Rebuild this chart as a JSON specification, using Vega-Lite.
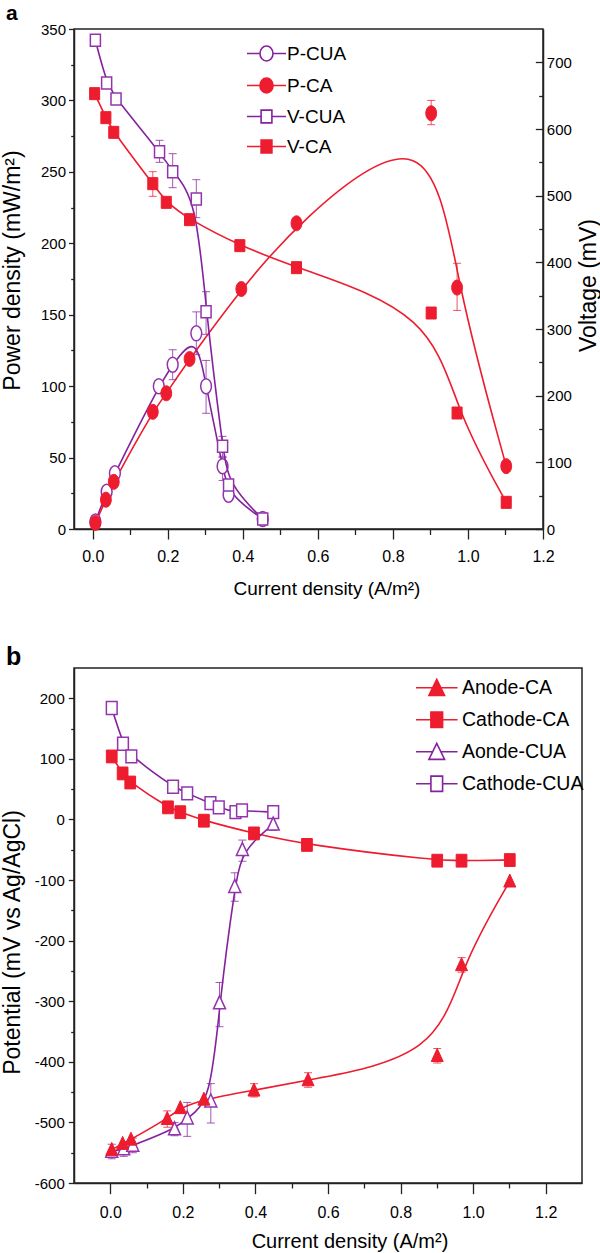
{
  "$schema": "https://vega.github.io/schema/vega-lite/v6.json",
  "background": "white",
  "padding": {"top": 2, "left": 0, "right": 0, "bottom": 0},
  "spacing": 45,
  "resolve": {
    "scale": {"color": "independent", "fill": "independent", "stroke": "independent", "shape": "independent"},
    "legend": {"color": "independent", "fill": "independent", "stroke": "independent", "shape": "independent"}
  },
  "config": {
    "view": {"stroke": "#222", "strokeWidth": 1.5},
    "axis": {"grid": false, "domainColor": "#222", "domainWidth": 1.5, "tickColor": "#222", "tickWidth": 1.3, "labelColor": "#000", "titleColor": "#000", "labelFont": "Liberation Sans", "labelFontSize": 15, "titleFontWeight": "normal", "labelOverlap": false, "labelFlush": false},
    "legend": {"labelFont": "Liberation Sans", "labelColor": "#000"}
  },
  "datasets": {
    "a": [
      {"series":"P-CUA","x":0.007,"y":5.3,"lo":2,"hi":9},
      {"series":"P-CUA","x":0.037,"y":26},
      {"series":"P-CUA","x":0.059,"y":39},
      {"series":"P-CUA","x":0.176,"y":100},
      {"series":"P-CUA","x":0.213,"y":115,"lo":104.5,"hi":125.5},
      {"series":"P-CUA","x":0.276,"y":137,"lo":122,"hi":152},
      {"series":"P-CUA","x":0.302,"y":100,"lo":81,"hi":118},
      {"series":"P-CUA","x":0.346,"y":44,"lo":34,"hi":50},
      {"series":"P-CUA","x":0.362,"y":24},
      {"series":"P-CUA","x":0.453,"y":7,"lo":4,"hi":11},
      {"series":"P-CA","x":0.007,"y":4.2},
      {"series":"P-CA","x":0.035,"y":20.5},
      {"series":"P-CA","x":0.056,"y":33},
      {"series":"P-CA","x":0.16,"y":82},
      {"series":"P-CA","x":0.196,"y":95},
      {"series":"P-CA","x":0.258,"y":119},
      {"series":"P-CA","x":0.396,"y":168},
      {"series":"P-CA","x":0.543,"y":214},
      {"series":"P-CA","x":0.902,"y":291,"lo":283,"hi":300},
      {"series":"P-CA","x":0.971,"y":169,"lo":153,"hi":186},
      {"series":"P-CA","x":1.102,"y":44},
      {"series":"V-CUA","x":0.007,"y":733,"lo":725,"hi":741},
      {"series":"V-CUA","x":0.037,"y":669,"lo":661,"hi":677},
      {"series":"V-CUA","x":0.062,"y":645,"lo":637,"hi":652},
      {"series":"V-CUA","x":0.178,"y":566,"lo":550,"hi":583},
      {"series":"V-CUA","x":0.213,"y":536,"lo":512,"hi":563},
      {"series":"V-CUA","x":0.276,"y":495,"lo":467,"hi":524},
      {"series":"V-CUA","x":0.302,"y":326,"lo":292,"hi":356},
      {"series":"V-CUA","x":0.346,"y":124,"lo":109,"hi":139},
      {"series":"V-CUA","x":0.362,"y":66,"lo":58,"hi":74},
      {"series":"V-CUA","x":0.453,"y":15,"lo":9,"hi":21},
      {"series":"V-CA","x":0.005,"y":653},
      {"series":"V-CA","x":0.035,"y":617},
      {"series":"V-CA","x":0.056,"y":595},
      {"series":"V-CA","x":0.16,"y":518,"lo":499,"hi":536},
      {"series":"V-CA","x":0.196,"y":490},
      {"series":"V-CA","x":0.258,"y":464},
      {"series":"V-CA","x":0.392,"y":425},
      {"series":"V-CA","x":0.543,"y":392},
      {"series":"V-CA","x":0.902,"y":324},
      {"series":"V-CA","x":0.971,"y":174},
      {"series":"V-CA","x":1.102,"y":40}
    ],
    "b": [
      {"series":"Anode-CA","x":0.004,"y":-545},
      {"series":"Anode-CA","x":0.034,"y":-535},
      {"series":"Anode-CA","x":0.057,"y":-528},
      {"series":"Anode-CA","x":0.157,"y":-494,"lo":-508,"hi":-481},
      {"series":"Anode-CA","x":0.193,"y":-476},
      {"series":"Anode-CA","x":0.258,"y":-462},
      {"series":"Anode-CA","x":0.396,"y":-447,"lo":-458,"hi":-436},
      {"series":"Anode-CA","x":0.545,"y":-430,"lo":-442,"hi":-418},
      {"series":"Anode-CA","x":0.901,"y":-390,"lo":-402,"hi":-378},
      {"series":"Anode-CA","x":0.968,"y":-240,"lo":-252,"hi":-228},
      {"series":"Anode-CA","x":1.101,"y":-102},
      {"series":"Cathode-CA","x":0.004,"y":104},
      {"series":"Cathode-CA","x":0.034,"y":76},
      {"series":"Cathode-CA","x":0.055,"y":61},
      {"series":"Cathode-CA","x":0.159,"y":20},
      {"series":"Cathode-CA","x":0.193,"y":12},
      {"series":"Cathode-CA","x":0.258,"y":-2},
      {"series":"Cathode-CA","x":0.396,"y":-23},
      {"series":"Cathode-CA","x":0.542,"y":-42},
      {"series":"Cathode-CA","x":0.901,"y":-68},
      {"series":"Cathode-CA","x":0.968,"y":-68},
      {"series":"Cathode-CA","x":1.101,"y":-67},
      {"series":"Aonde-CUA","x":0.004,"y":-548,"lo":-560,"hi":-536},
      {"series":"Aonde-CUA","x":0.037,"y":-544,"lo":-556,"hi":-532},
      {"series":"Aonde-CUA","x":0.062,"y":-538,"lo":-550,"hi":-526},
      {"series":"Aonde-CUA","x":0.177,"y":-511,"lo":-522,"hi":-500},
      {"series":"Aonde-CUA","x":0.212,"y":-493,"lo":-523,"hi":-467},
      {"series":"Aonde-CUA","x":0.277,"y":-465,"lo":-501,"hi":-436},
      {"series":"Aonde-CUA","x":0.301,"y":-303,"lo":-342,"hi":-269},
      {"series":"Aonde-CUA","x":0.343,"y":-111,"lo":-135,"hi":-88},
      {"series":"Aonde-CUA","x":0.364,"y":-50,"lo":-69,"hi":-34},
      {"series":"Aonde-CUA","x":0.449,"y":-8,"lo":-18,"hi":2},
      {"series":"Cathode-CUA","x":0.004,"y":184,"lo":176,"hi":192},
      {"series":"Cathode-CUA","x":0.035,"y":125,"lo":117,"hi":133},
      {"series":"Cathode-CUA","x":0.058,"y":104,"lo":96,"hi":112},
      {"series":"Cathode-CUA","x":0.173,"y":54,"lo":46,"hi":62},
      {"series":"Cathode-CUA","x":0.212,"y":43,"lo":35,"hi":51},
      {"series":"Cathode-CUA","x":0.276,"y":27,"lo":19,"hi":35},
      {"series":"Cathode-CUA","x":0.299,"y":20,"lo":12,"hi":28},
      {"series":"Cathode-CUA","x":0.345,"y":12},
      {"series":"Cathode-CUA","x":0.363,"y":15},
      {"series":"Cathode-CUA","x":0.449,"y":12,"lo":2,"hi":22}
    ]
  },
  "vconcat": [
    {
      "width": 469,
      "height": 500,
      "title": {"text": "a", "anchor": "start", "frame": "group", "dx": -68, "offset": -2, "fontSize": 21, "fontWeight": "bold", "font": "Liberation Sans", "color": "#000"},
      "data": {"name": "a"},
      "resolve": {"scale": {"y": "independent"}, "axis": {"y": "independent"}},
      "layer": [
        {
          "transform": [{"filter": "datum.series === 'P-CUA' || datum.series === 'P-CA'"}],
          "encoding": {
            "x": {"field": "x", "type": "quantitative", "scale": {"domain": [-0.05, 1.2], "nice": false, "zero": false},
              "axis": {"title": "Current density (A/m²)", "values": [0,0.1,0.2,0.3,0.4,0.5,0.6,0.7,0.8,0.9,1.0,1.1,1.2], "labelExpr": "round(datum.value*10) % 2 === 0 ? format(datum.value, '.1f') : ''", "tickSize": {"condition": {"test": "round(datum.value*10) % 2 === 0", "value": 10}, "value": 5.5}, "labelPadding": 9, "labelFontSize": 16, "titleFont": "Liberation Sans", "titleFontSize": 19, "titlePadding": 15, "titleX": 252.5}},
            "y": {"field": "y", "type": "quantitative", "scale": {"domain": [0, 350], "nice": false, "zero": false},
              "axis": {"title": "Power density (mW/m²)", "values": [0,25,50,75,100,125,150,175,200,225,250,275,300,325,350], "labelExpr": "datum.value % 50 === 0 ? datum.label : ''", "tickSize": {"condition": {"test": "datum.value % 50 === 0", "value": 5.5}, "value": 3.3}, "labelPadding": 3, "titleFont": "Liberation Sans", "titleFontSize": 23, "titlePadding": 16, "titleY": 241}}
          },
          "layer": [
            {"mark": {"type": "line", "interpolate": "basis", "strokeWidth": 1.6},
              "encoding": {"color": {"field": "series", "type": "nominal", "scale": {"domain": ["P-CA","P-CUA","V-CA","V-CUA"], "range": ["#ed1c2e","#84229e","#ed1c2e","#84229e"]}, "legend": null}}},
            {"transform": [{"filter": "isValid(datum.lo)"}], "mark": {"type": "rule", "strokeWidth": 1, "opacity": 0.75},
              "encoding": {"y": {"field": "lo", "type": "quantitative", "scale": {"domain": [0, 350], "nice": false, "zero": false},
                  "axis": {"title": "Power density (mW/m²)", "values": [0,25,50,75,100,125,150,175,200,225,250,275,300,325,350], "labelExpr": "datum.value % 50 === 0 ? datum.label : ''", "tickSize": {"condition": {"test": "datum.value % 50 === 0", "value": 5.5}, "value": 3.3}, "labelPadding": 3, "titleFont": "Liberation Sans", "titleFontSize": 23, "titlePadding": 16, "titleY": 241}},
                "y2": {"field": "hi"},
                "color": {"field": "series", "type": "nominal", "scale": {"domain": ["P-CA","P-CUA","V-CA","V-CUA"], "range": ["#ed1c2e","#84229e","#ed1c2e","#84229e"]}, "legend": null}}},
            {"transform": [{"filter": "isValid(datum.lo)"}], "mark": {"type": "tick", "orient": "horizontal", "size": 8, "thickness": 1, "opacity": 0.75},
              "encoding": {"y": {"field": "lo", "type": "quantitative", "scale": {"domain": [0, 350], "nice": false, "zero": false},
                  "axis": {"title": "Power density (mW/m²)", "values": [0,25,50,75,100,125,150,175,200,225,250,275,300,325,350], "labelExpr": "datum.value % 50 === 0 ? datum.label : ''", "tickSize": {"condition": {"test": "datum.value % 50 === 0", "value": 5.5}, "value": 3.3}, "labelPadding": 3, "titleFont": "Liberation Sans", "titleFontSize": 23, "titlePadding": 16, "titleY": 241}},
                "color": {"field": "series", "type": "nominal", "scale": {"domain": ["P-CA","P-CUA","V-CA","V-CUA"], "range": ["#ed1c2e","#84229e","#ed1c2e","#84229e"]}, "legend": null}}},
            {"transform": [{"filter": "isValid(datum.lo)"}], "mark": {"type": "tick", "orient": "horizontal", "size": 8, "thickness": 1, "opacity": 0.75},
              "encoding": {"y": {"field": "hi", "type": "quantitative", "scale": {"domain": [0, 350], "nice": false, "zero": false},
                  "axis": {"title": "Power density (mW/m²)", "values": [0,25,50,75,100,125,150,175,200,225,250,275,300,325,350], "labelExpr": "datum.value % 50 === 0 ? datum.label : ''", "tickSize": {"condition": {"test": "datum.value % 50 === 0", "value": 5.5}, "value": 3.3}, "labelPadding": 3, "titleFont": "Liberation Sans", "titleFontSize": 23, "titlePadding": 16, "titleY": 241}},
                "color": {"field": "series", "type": "nominal", "scale": {"domain": ["P-CA","P-CUA","V-CA","V-CUA"], "range": ["#ed1c2e","#84229e","#ed1c2e","#84229e"]}, "legend": null}}},
            {"transform": [{"filter": "datum.series === 'P-CUA'"}],
              "mark": {"type": "point", "shape": "M-0.72,0A0.72,1,0,1,1,0.72,0A0.72,1,0,1,1,-0.72,0Z", "size": 225, "filled": true, "fill": "white", "stroke": "#9334ad", "strokeWidth": 1.5, "opacity": 1}},
            {"transform": [{"filter": "datum.series === 'P-CA'"}],
              "mark": {"type": "point", "shape": "M-0.72,0A0.72,1,0,1,1,0.72,0A0.72,1,0,1,1,-0.72,0Z", "size": 225, "filled": true, "fill": "#ed1c2e", "stroke": "#ed1c2e", "strokeWidth": 1, "opacity": 1}}
          ]
        },
        {
          "transform": [{"filter": "datum.series === 'V-CUA' || datum.series === 'V-CA'"}],
          "encoding": {
            "x": {"field": "x", "type": "quantitative", "scale": {"domain": [-0.05, 1.2], "nice": false, "zero": false},
              "axis": {"title": "Current density (A/m²)", "values": [0,0.1,0.2,0.3,0.4,0.5,0.6,0.7,0.8,0.9,1.0,1.1,1.2], "labelExpr": "round(datum.value*10) % 2 === 0 ? format(datum.value, '.1f') : ''", "tickSize": {"condition": {"test": "round(datum.value*10) % 2 === 0", "value": 10}, "value": 5.5}, "labelPadding": 9, "labelFontSize": 16, "titleFont": "Liberation Sans", "titleFontSize": 19, "titlePadding": 15, "titleX": 252.5}},
            "y": {"field": "y", "type": "quantitative", "scale": {"domain": [0, 750], "nice": false, "zero": false},
              "axis": {"orient": "right", "title": "Voltage (mV)", "values": [0,50,100,150,200,250,300,350,400,450,500,550,600,650,700], "labelExpr": "datum.value % 100 === 0 ? datum.label : ''", "tickSize": {"condition": {"test": "datum.value % 100 === 0", "value": -7.7}, "value": -4.3}, "labelPadding": 11, "titleFont": "Liberation Sans", "titleFontSize": 23, "titlePadding": 6, "titleAngle": -90, "titleBaseline": "top", "titleY": 256}}
          },
          "layer": [
            {"mark": {"type": "line", "interpolate": "basis", "strokeWidth": 1.6},
              "encoding": {"color": {"field": "series", "type": "nominal", "scale": {"domain": ["P-CA","P-CUA","V-CA","V-CUA"], "range": ["#ed1c2e","#84229e","#ed1c2e","#84229e"]}, "legend": null}}},
            {"transform": [{"filter": "isValid(datum.lo)"}], "mark": {"type": "rule", "strokeWidth": 1, "opacity": 0.75},
              "encoding": {"y": {"field": "lo", "type": "quantitative", "scale": {"domain": [0, 750], "nice": false, "zero": false},
                  "axis": {"orient": "right", "title": "Voltage (mV)", "values": [0,50,100,150,200,250,300,350,400,450,500,550,600,650,700], "labelExpr": "datum.value % 100 === 0 ? datum.label : ''", "tickSize": {"condition": {"test": "datum.value % 100 === 0", "value": -7.7}, "value": -4.3}, "labelPadding": 11, "titleFont": "Liberation Sans", "titleFontSize": 23, "titlePadding": 6, "titleAngle": -90, "titleBaseline": "top", "titleY": 256}},
                "y2": {"field": "hi"},
                "color": {"field": "series", "type": "nominal", "scale": {"domain": ["P-CA","P-CUA","V-CA","V-CUA"], "range": ["#ed1c2e","#84229e","#ed1c2e","#84229e"]}, "legend": null}}},
            {"transform": [{"filter": "isValid(datum.lo)"}], "mark": {"type": "tick", "orient": "horizontal", "size": 8, "thickness": 1, "opacity": 0.75},
              "encoding": {"y": {"field": "lo", "type": "quantitative", "scale": {"domain": [0, 750], "nice": false, "zero": false},
                  "axis": {"orient": "right", "title": "Voltage (mV)", "values": [0,50,100,150,200,250,300,350,400,450,500,550,600,650,700], "labelExpr": "datum.value % 100 === 0 ? datum.label : ''", "tickSize": {"condition": {"test": "datum.value % 100 === 0", "value": -7.7}, "value": -4.3}, "labelPadding": 11, "titleFont": "Liberation Sans", "titleFontSize": 23, "titlePadding": 6, "titleAngle": -90, "titleBaseline": "top", "titleY": 256}},
                "color": {"field": "series", "type": "nominal", "scale": {"domain": ["P-CA","P-CUA","V-CA","V-CUA"], "range": ["#ed1c2e","#84229e","#ed1c2e","#84229e"]}, "legend": null}}},
            {"transform": [{"filter": "isValid(datum.lo)"}], "mark": {"type": "tick", "orient": "horizontal", "size": 8, "thickness": 1, "opacity": 0.75},
              "encoding": {"y": {"field": "hi", "type": "quantitative", "scale": {"domain": [0, 750], "nice": false, "zero": false},
                  "axis": {"orient": "right", "title": "Voltage (mV)", "values": [0,50,100,150,200,250,300,350,400,450,500,550,600,650,700], "labelExpr": "datum.value % 100 === 0 ? datum.label : ''", "tickSize": {"condition": {"test": "datum.value % 100 === 0", "value": -7.7}, "value": -4.3}, "labelPadding": 11, "titleFont": "Liberation Sans", "titleFontSize": 23, "titlePadding": 6, "titleAngle": -90, "titleBaseline": "top", "titleY": 256}},
                "color": {"field": "series", "type": "nominal", "scale": {"domain": ["P-CA","P-CUA","V-CA","V-CUA"], "range": ["#ed1c2e","#84229e","#ed1c2e","#84229e"]}, "legend": null}}},
            {"transform": [{"filter": "datum.series === 'V-CUA'"}],
              "mark": {"type": "point", "shape": "M-0.67,-0.8H0.67V0.8H-0.67Z", "size": 225, "filled": true, "fill": "white", "stroke": "#9334ad", "strokeWidth": 1.5, "opacity": 1}},
            {"transform": [{"filter": "datum.series === 'V-CA'"}],
              "mark": {"type": "point", "shape": "M-0.67,-0.8H0.67V0.8H-0.67Z", "size": 225, "filled": true, "fill": "#ed1c2e", "stroke": "#ed1c2e", "strokeWidth": 1, "opacity": 1}}
          ]
        },
        {
          "transform": [{"filter": "false"}],
          "mark": {"type": "point", "filled": true, "opacity": 1, "strokeWidth": 1.6},
          "encoding": {
            "fill": {"field": "series", "type": "nominal", "scale": {"domain": ["P-CUA","P-CA","V-CUA","V-CA"], "range": ["white","#ed1c2e","white","#ed1c2e"]},
              "legend": {"title": null, "orient": "none", "legendX": 183, "legendY": 15, "labelFontSize": 19, "symbolSize": 225, "symbolStrokeWidth": 1.6, "labelOffset": 11, "rowPadding": 9, "padding": 0, "labelLimit": 0}},
            "stroke": {"field": "series", "type": "nominal", "scale": {"domain": ["P-CUA","P-CA","V-CUA","V-CA"], "range": ["#84229e","#ed1c2e","#84229e","#ed1c2e"]},
              "legend": {"title": null, "orient": "none", "legendX": 183, "legendY": 15, "labelFontSize": 19, "symbolSize": 225, "symbolStrokeWidth": 1.6, "labelOffset": 11, "rowPadding": 9, "padding": 0, "labelLimit": 0}},
            "shape": {"field": "series", "type": "nominal", "scale": {"domain": ["P-CUA","P-CA","V-CUA","V-CA"], "range": ["M-2.6,0H-0.87M0.87,0H2.6M-0.87,0A0.87,1,0,1,1,0.87,0A0.87,1,0,1,1,-0.87,0Z","M-2.6,0H-0.87M0.87,0H2.6M-0.87,0A0.87,1,0,1,1,0.87,0A0.87,1,0,1,1,-0.87,0Z","M-2.6,0H-0.72M0.72,0H2.6M-0.72,-0.85H0.72V0.85H-0.72Z","M-2.6,0H-0.72M0.72,0H2.6M-0.72,-0.85H0.72V0.85H-0.72Z"]},
              "legend": {"title": null, "orient": "none", "legendX": 183, "legendY": 15, "labelFontSize": 19, "symbolSize": 225, "symbolStrokeWidth": 1.6, "labelOffset": 11, "rowPadding": 9, "padding": 0, "labelLimit": 0}}
          }
        }
      ]
    },
    {
      "width": 508,
      "height": 515,
      "title": {"text": "b", "anchor": "start", "frame": "group", "dx": -68, "offset": -2, "fontSize": 25, "fontWeight": "bold", "font": "Liberation Sans", "color": "#000"},
      "data": {"name": "b"},
      "encoding": {
        "x": {"field": "x", "type": "quantitative", "scale": {"domain": [-0.1, 1.3], "nice": false, "zero": false},
          "axis": {"title": "Current density (A/m²)", "values": [0,0.1,0.2,0.3,0.4,0.5,0.6,0.7,0.8,0.9,1.0,1.1,1.2], "labelExpr": "round(datum.value*10) % 2 === 0 ? format(datum.value, '.1f') : ''", "tickSize": {"condition": {"test": "round(datum.value*10) % 2 === 0", "value": 10.7}, "value": 5}, "labelPadding": 11, "labelFontSize": 16, "titleFont": "Liberation Sans", "titleFontSize": 20, "titlePadding": 11, "titleX": 275.5}},
        "y": {"field": "y", "type": "quantitative", "scale": {"domain": [-600, 250], "nice": false, "zero": false},
          "axis": {"title": "Potential (mV vs Ag/AgCl)", "values": [-600,-550,-500,-450,-400,-350,-300,-250,-200,-150,-100,-50,0,50,100,150,200], "labelExpr": "datum.value % 100 === 0 ? '' + datum.value : ''", "tickSize": {"condition": {"test": "datum.value % 100 === 0", "value": 5.7}, "value": 3.3}, "labelPadding": 4, "titleFont": "Liberation Sans", "titleFontSize": 23, "titlePadding": 10, "titleY": 274}}
      },
      "layer": [
        {"mark": {"type": "line", "interpolate": "basis", "strokeWidth": 1.6},
          "encoding": {"color": {"field": "series", "type": "nominal", "scale": {"domain": ["Cathode-CUA","Aonde-CUA","Cathode-CA","Anode-CA"], "range": ["#84229e","#84229e","#ed1c2e","#ed1c2e"]}, "legend": null}}},
        {"transform": [{"filter": "isValid(datum.lo)"}], "mark": {"type": "rule", "strokeWidth": 1, "opacity": 0.75},
          "encoding": {"y": {"field": "lo", "type": "quantitative", "scale": {"domain": [-600, 250], "nice": false, "zero": false},
              "axis": {"title": "Potential (mV vs Ag/AgCl)", "values": [-600,-550,-500,-450,-400,-350,-300,-250,-200,-150,-100,-50,0,50,100,150,200], "labelExpr": "datum.value % 100 === 0 ? '' + datum.value : ''", "tickSize": {"condition": {"test": "datum.value % 100 === 0", "value": 5.7}, "value": 3.3}, "labelPadding": 4, "titleFont": "Liberation Sans", "titleFontSize": 23, "titlePadding": 10, "titleY": 274}},
            "y2": {"field": "hi"},
            "color": {"field": "series", "type": "nominal", "scale": {"domain": ["Cathode-CUA","Aonde-CUA","Cathode-CA","Anode-CA"], "range": ["#84229e","#84229e","#ed1c2e","#ed1c2e"]}, "legend": null}}},
        {"transform": [{"filter": "isValid(datum.lo)"}], "mark": {"type": "tick", "orient": "horizontal", "size": 8, "thickness": 1, "opacity": 0.75},
          "encoding": {"y": {"field": "lo", "type": "quantitative", "scale": {"domain": [-600, 250], "nice": false, "zero": false},
              "axis": {"title": "Potential (mV vs Ag/AgCl)", "values": [-600,-550,-500,-450,-400,-350,-300,-250,-200,-150,-100,-50,0,50,100,150,200], "labelExpr": "datum.value % 100 === 0 ? '' + datum.value : ''", "tickSize": {"condition": {"test": "datum.value % 100 === 0", "value": 5.7}, "value": 3.3}, "labelPadding": 4, "titleFont": "Liberation Sans", "titleFontSize": 23, "titlePadding": 10, "titleY": 274}},
            "color": {"field": "series", "type": "nominal", "scale": {"domain": ["Cathode-CUA","Aonde-CUA","Cathode-CA","Anode-CA"], "range": ["#84229e","#84229e","#ed1c2e","#ed1c2e"]}, "legend": null}}},
        {"transform": [{"filter": "isValid(datum.lo)"}], "mark": {"type": "tick", "orient": "horizontal", "size": 8, "thickness": 1, "opacity": 0.75},
          "encoding": {"y": {"field": "hi", "type": "quantitative", "scale": {"domain": [-600, 250], "nice": false, "zero": false},
              "axis": {"title": "Potential (mV vs Ag/AgCl)", "values": [-600,-550,-500,-450,-400,-350,-300,-250,-200,-150,-100,-50,0,50,100,150,200], "labelExpr": "datum.value % 100 === 0 ? '' + datum.value : ''", "tickSize": {"condition": {"test": "datum.value % 100 === 0", "value": 5.7}, "value": 3.3}, "labelPadding": 4, "titleFont": "Liberation Sans", "titleFontSize": 23, "titlePadding": 10, "titleY": 274}},
            "color": {"field": "series", "type": "nominal", "scale": {"domain": ["Cathode-CUA","Aonde-CUA","Cathode-CA","Anode-CA"], "range": ["#84229e","#84229e","#ed1c2e","#ed1c2e"]}, "legend": null}}},
        {"transform": [{"filter": "datum.series === 'Cathode-CUA'"}],
          "mark": {"type": "point", "shape": "M-0.67,-0.8H0.67V0.8H-0.67Z", "size": 256, "filled": true, "fill": "white", "stroke": "#9334ad", "strokeWidth": 1.5, "opacity": 1}},
        {"transform": [{"filter": "datum.series === 'Aonde-CUA'"}],
          "mark": {"type": "point", "shape": "M0,-0.9L0.75,0.72L-0.75,0.72Z", "size": 256, "filled": true, "fill": "white", "stroke": "#9334ad", "strokeWidth": 1.5, "opacity": 1}},
        {"transform": [{"filter": "datum.series === 'Cathode-CA'"}],
          "mark": {"type": "point", "shape": "M-0.67,-0.8H0.67V0.8H-0.67Z", "size": 256, "filled": true, "fill": "#ed1c2e", "stroke": "#ed1c2e", "strokeWidth": 1, "opacity": 1}},
        {"transform": [{"filter": "datum.series === 'Anode-CA'"}],
          "mark": {"type": "point", "shape": "M0,-0.9L0.75,0.72L-0.75,0.72Z", "size": 256, "filled": true, "fill": "#ed1c2e", "stroke": "#ed1c2e", "strokeWidth": 1, "opacity": 1}},
        {
          "transform": [{"filter": "false"}],
          "mark": {"type": "point", "filled": true, "opacity": 1, "strokeWidth": 1.6},
          "encoding": {
            "fill": {"field": "series", "type": "nominal", "scale": {"domain": ["Anode-CA","Cathode-CA","Aonde-CUA","Cathode-CUA"], "range": ["#ed1c2e","#ed1c2e","white","white"]},
              "legend": {"title": null, "orient": "none", "legendX": 353, "legendY": 10, "labelFontSize": 19.5, "symbolSize": 256, "symbolStrokeWidth": 1.6, "labelOffset": 15.5, "rowPadding": 9, "padding": 0, "labelLimit": 0}},
            "stroke": {"field": "series", "type": "nominal", "scale": {"domain": ["Anode-CA","Cathode-CA","Aonde-CUA","Cathode-CUA"], "range": ["#ed1c2e","#ed1c2e","#84229e","#84229e"]},
              "legend": {"title": null, "orient": "none", "legendX": 353, "legendY": 10, "labelFontSize": 19.5, "symbolSize": 256, "symbolStrokeWidth": 1.6, "labelOffset": 15.5, "rowPadding": 9, "padding": 0, "labelLimit": 0}},
            "shape": {"field": "series", "type": "nominal", "scale": {"domain": ["Anode-CA","Cathode-CA","Aonde-CUA","Cathode-CUA"], "range": ["M-2.6,0H-0.52M0.52,0H2.6M0,-1.05L0.98,0.95L-0.98,0.95Z","M-2.6,0H-0.73M0.73,0H2.6M-0.73,-0.95H0.73V0.95H-0.73Z","M-2.6,0H-0.52M0.52,0H2.6M0,-1.05L0.98,0.95L-0.98,0.95Z","M-2.6,0H-0.73M0.73,0H2.6M-0.73,-0.95H0.73V0.95H-0.73Z"]},
              "legend": {"title": null, "orient": "none", "legendX": 353, "legendY": 10, "labelFontSize": 19.5, "symbolSize": 256, "symbolStrokeWidth": 1.6, "labelOffset": 15.5, "rowPadding": 9, "padding": 0, "labelLimit": 0}}
          }
        }
      ]
    }
  ]
}
